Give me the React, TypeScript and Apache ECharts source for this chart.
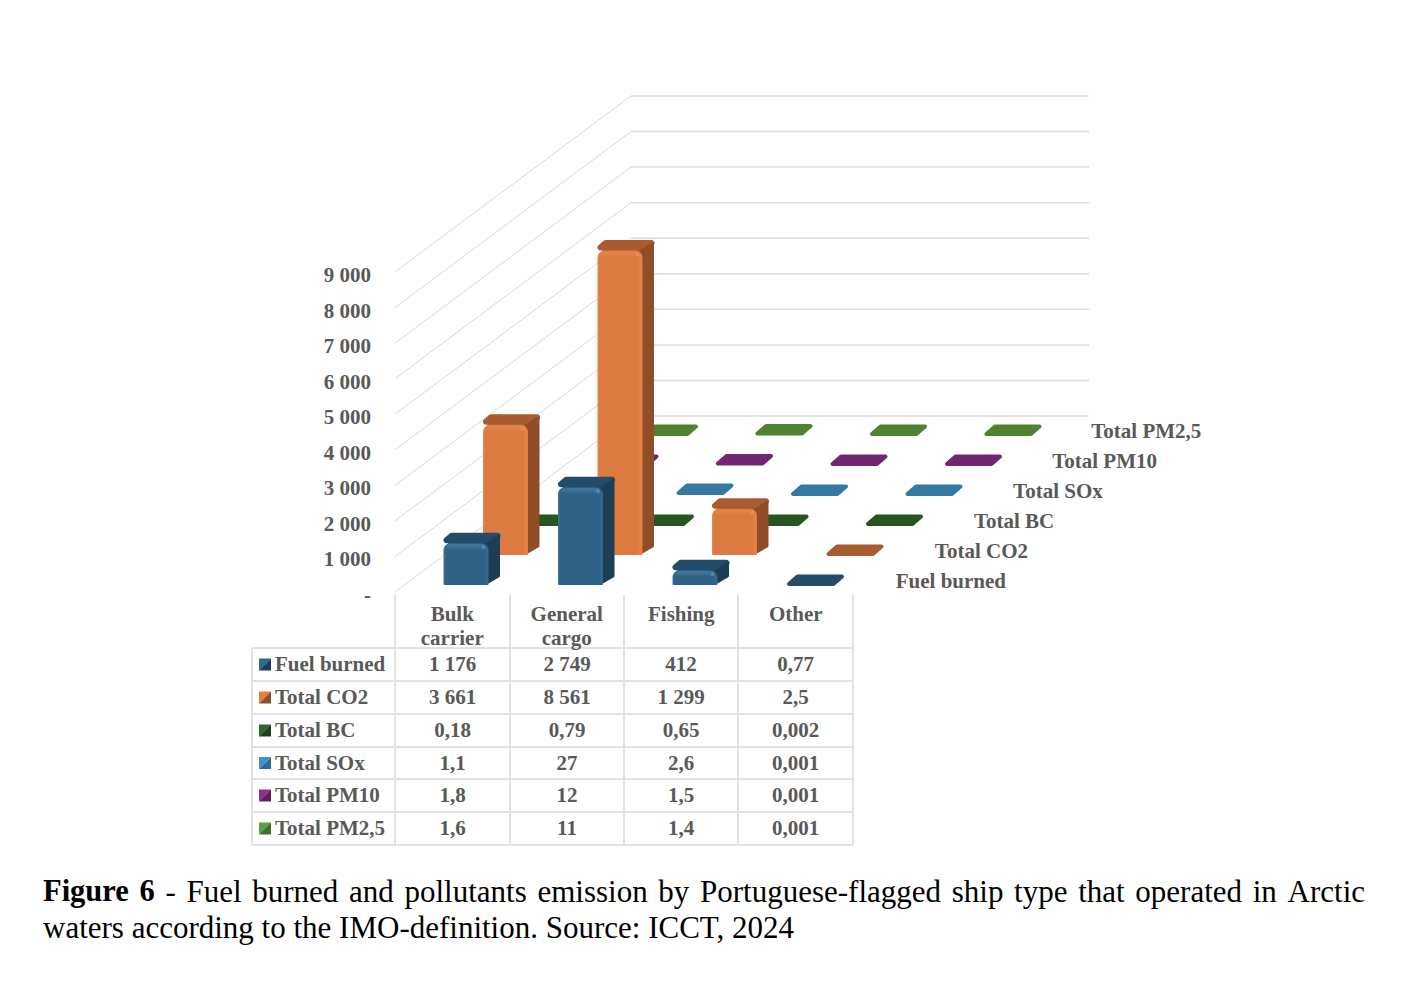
import React, { useEffect, useRef } from "react";
import * as echarts from "echarts";

const categories = ["Bulk\ncarrier", "General\ncargo", "Fishing", "Other"];
const seriesNames = ["Fuel burned", "Total CO2", "Total BC", "Total SOx", "Total PM10", "Total PM2,5"];
const fuelBurned = [1176, 2749, 412, 0.77];
const totalCO2 = [3661, 8561, 1299, 2.5];
const totalBC = [0.18, 0.79, 0.65, 0.002];
const totalSOx = [1.1, 27, 2.6, 0.001];
const totalPM10 = [1.8, 12, 1.5, 0.001];
const totalPM25 = [1.6, 11, 1.4, 0.001];
const seriesValues = [fuelBurned, totalCO2, totalBC, totalSOx, totalPM10, totalPM25];
const yTicks = [0, 1000, 2000, 3000, 4000, 5000, 6000, 7000, 8000, 9000];

const palette = [
  { front: "#2f6285", side: "#1c3f55", top: "#234c68", hi: "#4f8cb0", keyA: "#2a6a94", keyB: "#1d3f58" },
  { front: "#dc7a42", side: "#8f4e28", top: "#a85c30", hi: "#f08c4c", keyA: "#e27f3e", keyB: "#8e5028" },
  { front: "#2f6526", side: "#25531e", top: "#27561f", hi: "#3b7a30", keyA: "#2a6a2b", keyB: "#1d3f1a" },
  { front: "#3b86b4", side: "#2c6a90", top: "#3579a3", hi: "#5aa5d0", keyA: "#3e93c8", keyB: "#2f6d93" },
  { front: "#7d2b80", side: "#5c2060", top: "#6f2771", hi: "#9a3c9c", keyA: "#8f2b91", keyB: "#5c2060" },
  { front: "#59923a", side: "#3f6f2f", top: "#4f8231", hi: "#6fae4e", keyA: "#55a33c", keyB: "#3f6f2f" },
];

const FONT = '"Liberation Serif", "Times New Roman", serif';
const GREY = "#595959";
const LABEL_SIZE = 21;

// projection of the 3-D scene on the page
const ROW_DX = 39.5;
const ROW_DY = 30;
const BAR_X = 13.75;
const BAR_Y = 7;
const BAR_W = 45;
const DEPTH_DX = 12;
const DEPTH_DY = 10.5;
const WALL_DX = 236;
const WALL_DY = 176;

const GRID = { left: 395, top: 272, width: 458, height: 320 };
const TABLE_COLS = [395, 510, 624, 738, 853];
const TABLE_ROWS = [648, 681, 714, 747, 779, 812, 845];

const fmtAxis = (v: number) => (v === 0 ? "-" : String(v).replace(/\B(?=(\d{3})+$)/g, " "));
const fmtCell = (v: number) => {
  const [a, b] = String(v).split(".");
  const head = a.replace(/\B(?=(\d{3})+$)/g, " ");
  return b ? head + "," + b : head;
};

const captionLines = [
  { y: 891, justify: true, words: ["Figure", "6", "-", "Fuel", "burned", "and", "pollutants", "emission", "by", "Portuguese-flagged", "ship", "type", "that", "operated", "in", "Arctic"], bold: 2 },
  { y: 927, justify: false, words: ["waters", "according", "to", "the", "IMO-definition.", "Source:", "ICCT,", "2024"], bold: 0 },
];

function captionElements() {
  const ctx = document.createElement("canvas").getContext("2d")!;
  const L = 43;
  const R = 1365;
  const out: any[] = [];
  captionLines.forEach((line) => {
    const fonts = line.words.map((_, i) => (i < line.bold ? `bold 30.5px ${FONT}` : `31px ${FONT}`));
    const widths = line.words.map((w, i) => {
      ctx.font = fonts[i];
      return ctx.measureText(w).width;
    });
    const total = widths.reduce((a, b) => a + b, 0);
    const gap = line.justify ? (R - L - total) / (line.words.length - 1) : 7.75;
    let x = L;
    line.words.forEach((w, i) => {
      out.push({
        type: "text",
        x,
        y: line.y,
        style: { text: w, font: fonts[i], fill: "#000000", align: "left", verticalAlign: "middle" },
      });
      x += widths[i] + gap;
    });
  });
  return out;
}

function tableElements() {
  const out: any[] = [];
  const stroke = { stroke: "#e2e2e2", lineWidth: 2 };
  TABLE_ROWS.forEach((y) => out.push({ type: "line", shape: { x1: 252, y1: y, x2: TABLE_COLS[4], y2: y }, style: stroke }));
  out.push({ type: "line", shape: { x1: 252, y1: TABLE_ROWS[0], x2: 252, y2: TABLE_ROWS[6] }, style: stroke });
  TABLE_COLS.forEach((x) => out.push({ type: "line", shape: { x1: x, y1: 595, x2: x, y2: TABLE_ROWS[6] }, style: stroke }));
  seriesNames.forEach((name, r) => {
    const cy = (TABLE_ROWS[r] + TABLE_ROWS[r + 1]) / 2;
    const x0 = 259;
    const y0 = cy - 6;
    const s = 12;
    out.push({ type: "polygon", shape: { points: [[x0, y0], [x0 + s, y0], [x0, y0 + s]] }, style: { fill: palette[r].keyA } });
    out.push({ type: "polygon", shape: { points: [[x0 + s, y0], [x0 + s, y0 + s], [x0, y0 + s]] }, style: { fill: palette[r].keyB } });
    out.push({
      type: "text", x: 275, y: cy - 0.5,
      style: { text: name, font: `bold ${LABEL_SIZE}px ${FONT}`, fill: GREY, align: "left", verticalAlign: "middle" },
    });
    seriesValues[r].forEach((v, c) => {
      out.push({
        type: "text", x: (TABLE_COLS[c] + TABLE_COLS[c + 1]) / 2, y: cy - 0.5,
        style: { text: fmtCell(v), font: `bold ${LABEL_SIZE}px ${FONT}`, fill: GREY, align: "center", verticalAlign: "middle" },
      });
    });
  });
  return out;
}

function barRenderer(row: number) {
  const col = palette[row];
  return (_: any, api: any) => {
    const cat = api.value(0);
    const val = api.value(1);
    const base = api.coord([cat, 0]);
    const topP = api.coord([cat, val]);
    const h = base[1] - topP[1];
    const xL = base[0] + BAR_X - BAR_W / 2 + ROW_DX * row;
    const xR = xL + BAR_W;
    const yB = base[1] - BAR_Y - ROW_DY * row;
    const yT = yB - h;
    const isBar = h > 3;
    const i = isBar ? 3 : 2;
    const slope = DEPTH_DX / DEPTH_DY;
    const children: any[] = [];
    const botY = yT - i + (isBar ? 0 : 1);
    const topY = yT - DEPTH_DY + i;
    const run = (botY - topY) * slope;
    const farR = xR + DEPTH_DX - i;
    children.push({
      type: "polygon",
      shape: {
        points: [
          [xL + i, botY],
          [farR - run, botY],
          [farR, topY],
          [xL + i + run, topY],
        ],
      },
      style: { fill: col.top, stroke: col.top, lineWidth: 2 * i, lineJoin: "round" },
    });
    if (isBar) {
      // the top face continues under the front rounded corners
      children.push({
        type: "polygon",
        shape: { points: [[xL + 3, yT + 2], [xR - 3, yT + 2], [xR + DEPTH_DX - 4, yT - DEPTH_DY + 4], [xL + DEPTH_DX, yT - DEPTH_DY + 4]] },
        style: { fill: col.top },
      });
      children.push({
        type: "polygon",
        shape: {
          points: [
            [xR - 3, yB - 1.5],
            [xR + DEPTH_DX - 2, yB - DEPTH_DY + 1.5],
            [xR + DEPTH_DX - 2, yT - DEPTH_DY + 4],
            [xR - 3, yT + 2],
          ],
        },
        style: { fill: col.side, stroke: col.side, lineWidth: 3, lineJoin: "round" },
      });
      const r = Math.min(7, h / 2);
      children.push({
        type: "rect",
        shape: { x: xL, y: yT, width: BAR_W, height: h, r: [r, r, 1, 1] },
        style: {
          fill: new echarts.graphic.LinearGradient(0, 0, 1, 0, [
            { offset: 0, color: echarts.color.lift(col.front, 0.12) },
            { offset: 0.05, color: col.front },
            { offset: 0.88, color: col.front },
            { offset: 0.95, color: echarts.color.lift(col.front, -0.06) },
            { offset: 1, color: echarts.color.lift(col.front, 0.04) },
          ]),
        },
      });
      children.push({
        type: "rect",
        shape: { x: xL + 3, y: yT + 1, width: BAR_W - 6, height: Math.min(6, h / 2), r: 3 },
        style: {
          fill: new echarts.graphic.LinearGradient(0, 0, 0, 1, [
            { offset: 0, color: col.hi },
            { offset: 1, color: col.front },
          ]),
          opacity: 0.6,
        },
      });
      children.push({
        type: "circle",
        shape: { cx: xR - 5, cy: yT + 4, r: 1.8 },
        style: { fill: col.hi },
      });
    }
    return { type: "group", children };
  };
}

const wallRenderer = (_: any, api: any) => {
  const v = api.value(1);
  const c0 = api.coord([0, v]);
  const c1 = api.coord([1, v]);
  const band = c1[0] - c0[0];
  const x0 = c0[0] - band / 2;
  const y0 = c0[1];
  return {
    type: "group",
    children: [
      { type: "line", shape: { x1: x0, y1: y0, x2: x0 + WALL_DX, y2: y0 - WALL_DY }, style: { stroke: "#d9d9d9", lineWidth: 1 } },
      { type: "line", shape: { x1: x0 + WALL_DX, y1: y0 - WALL_DY, x2: x0 + WALL_DX + band * 4, y2: y0 - WALL_DY }, style: { stroke: "#dcdcdc", lineWidth: 1.5 } },
    ],
  };
};

const rowLabelRenderer = (_: any, api: any) => {
  const row = api.value(2);
  const c = api.coord([api.value(0), 0]);
  return {
    type: "text",
    x: c[0] + 100 + ROW_DX * row * 0.99,
    y: c[1] - 11.5 - ROW_DY * row * 0.995,
    style: { text: seriesNames[row], font: `bold ${LABEL_SIZE}px ${FONT}`, fill: GREY, align: "left", verticalAlign: "middle" },
  };
};

export default function App() {
  const ref = useRef<HTMLDivElement>(null);
  useEffect(() => {
    document.body.style.margin = "0";
    const chart = echarts.init(ref.current!, undefined, { renderer: "svg" });
    const rowSeries = seriesNames
      .map((name, r) => ({
        type: "custom",
        name,
        coordinateSystem: "cartesian2d",
        z: 8 - r,
        clip: false,
        renderItem: barRenderer(r),
        encode: { x: 0, y: 1 },
        data: seriesValues[r].map((v, c) => [c, v]),
      }))
      .reverse();
    chart.setOption({
      animation: false,
      backgroundColor: "#ffffff",
      tooltip: { show: false },
      grid: { ...GRID },
      xAxis: {
        type: "category",
        data: categories,
        axisLine: { show: false },
        axisTick: { show: false },
        splitLine: { show: false },
        axisLabel: {
          interval: 0,
          margin: 10,
          lineHeight: 24,
          verticalAlign: "top",
          fontFamily: FONT,
          fontWeight: "bold",
          fontSize: LABEL_SIZE,
          color: GREY,
        },
      },
      yAxis: {
        type: "value",
        min: 0,
        max: 9000,
        interval: 1000,
        axisLine: { show: false },
        axisTick: { show: false },
        splitLine: { show: false },
        axisLabel: {
          margin: 24,
          fontFamily: FONT,
          fontWeight: "bold",
          fontSize: LABEL_SIZE,
          color: GREY,
          verticalAlign: "top",
          lineHeight: 6,
          formatter: fmtAxis,
        },
      },
      series: [
        {
          type: "custom",
          name: "walls",
          coordinateSystem: "cartesian2d",
          z: 1,
          clip: false,
          renderItem: wallRenderer,
          encode: { x: 0, y: 1 },
          data: yTicks.map((t) => [0, t]),
        },
        ...rowSeries,
        {
          type: "custom",
          name: "rows",
          coordinateSystem: "cartesian2d",
          z: 9,
          clip: false,
          renderItem: rowLabelRenderer,
          encode: { x: 0, y: 1 },
          data: seriesNames.map((_, r) => [3, 0, r]),
        },
      ],
      graphic: [...tableElements(), ...captionElements()],
    });
    return () => chart.dispose();
  }, []);
  return <div ref={ref} style={{ position: "absolute", left: 0, top: 0, width: 1418, height: 994 }} />;
}
